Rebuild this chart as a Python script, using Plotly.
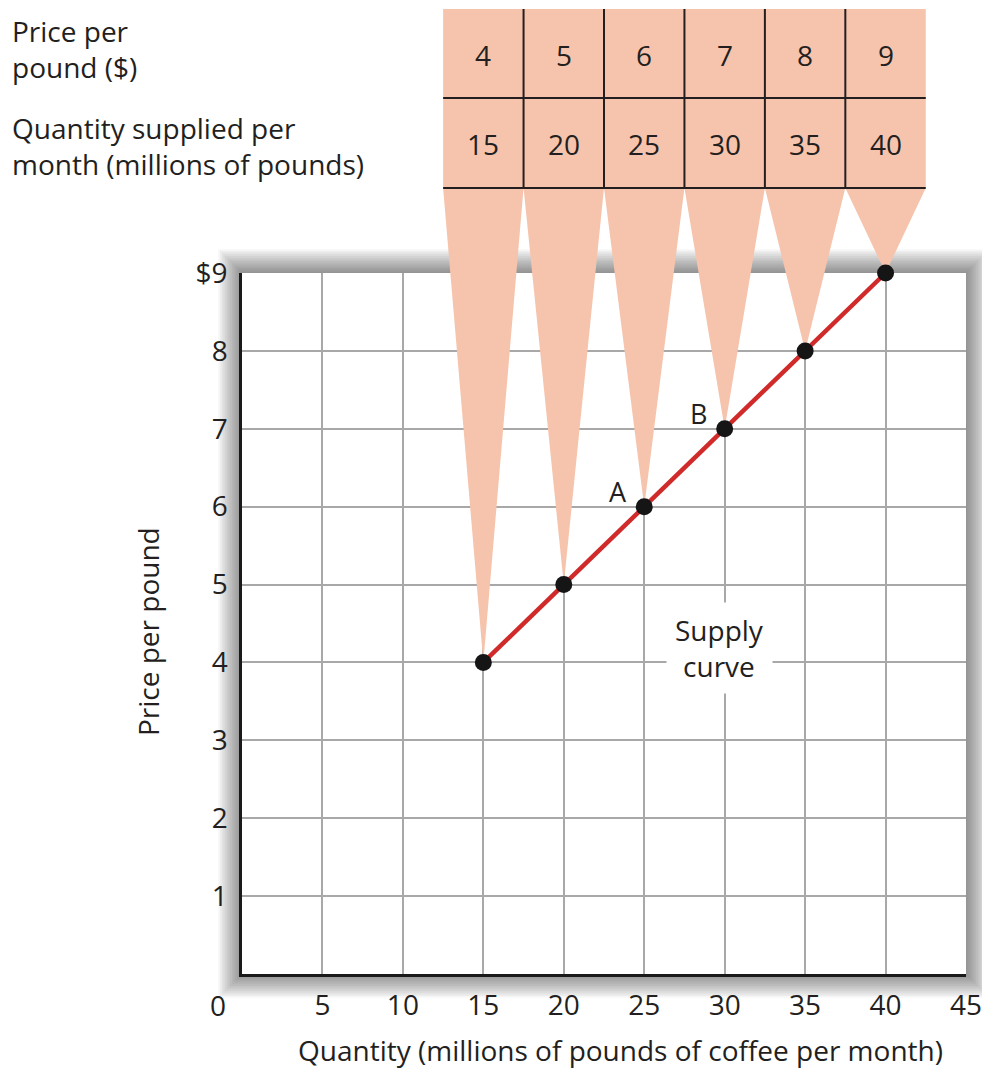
import plotly.graph_objects as go

# ---------------- data ----------------
quantity = [15, 20, 25, 30, 35, 40]          # millions of pounds per month
price = [4, 5, 6, 7, 8, 9]                   # $ per pound
x_tick_vals = [5, 10, 15, 20, 25, 30, 35, 40, 45]
y_tick_vals = [1, 2, 3, 4, 5, 6, 7, 8, 9]
y_tick_text = ["1", "2", "3", "4", "5", "6", "7", "8", "$9"]
point_names = ["A", "B"]
point_q = [25, 30]
point_p = [6, 7]
row_labels = ["Price per<br>pound ($)", "Quantity supplied per<br>month (millions of pounds)"]
x_title = "Quantity (millions of pounds of coffee per month)"
y_title = "Price per pound"
curve_label = "Supply<br>curve"

# ---------------- layout constants ----------------
W, H = 982, 1069
PLOT_BOTTOM_PX = 974                 # page pixel of price 0
ML, MR, MT, MB = 242, 16, 9, H - PLOT_BOTTOM_PX
PLOT_W = W - ML - MR                 # 724
PLOT_H = H - MT - MB                 # 965
GRID_PX = 701                        # pixel height of the price grid
DOM_TOP = GRID_PX / PLOT_H
Y_MAX = 9
X_MAX = 45
Y2_TOP = Y_MAX / DOM_TOP             # overlay axis with identical scale


def y2_of_px(py):
    return (PLOT_BOTTOM_PX - py) / PLOT_H * Y2_TOP


TABLE_TOP = y2_of_px(9)
TABLE_MID = y2_of_px(98)
TABLE_BOT = y2_of_px(188)
HALF = 2.5                           # half column width (quantity units)

FONT = "Open Sans"
FS = 28
TXT = "#231f20"
PEACH = "#f6c4ad"
RED = "#d02a2a"
GRID = "#a8a8a8"

fig = go.Figure()

# dummy trace to create main grid subplot
fig.add_trace(go.Scatter(x=[None], y=[None], xaxis="x", yaxis="y",
                         showlegend=False, hoverinfo="skip"))

# funnels from table down to points
tx, ty = [], []
for q, p in zip(quantity, price):
    tx += [q - HALF, q + HALF, q, q - HALF, None]
    ty += [TABLE_BOT, TABLE_BOT, p, TABLE_BOT, None]
fig.add_trace(go.Scatter(x=tx, y=ty, xaxis="x2", yaxis="y2", mode="lines",
                         fill="toself", fillcolor=PEACH, line=dict(width=0, color=PEACH),
                         showlegend=False, hoverinfo="skip"))

# supply curve
fig.add_trace(go.Scatter(x=quantity, y=price, xaxis="x2", yaxis="y2", mode="lines+markers",
                         line=dict(color=RED, width=4.5),
                         marker=dict(color="#151515", size=17),
                         showlegend=False, cliponaxis=False))

shapes = []
# drop shadow around the grid box
N = 14
for k in range(1, N + 1):
    d = k * 1.7
    shapes.append(dict(type="rect", xref="paper", yref="paper", layer="below",
                       x0=-d / PLOT_W, x1=1 + d / PLOT_W,
                       y0=-d / PLOT_H, y1=DOM_TOP + d / PLOT_H,
                       fillcolor="rgba(0,0,0,0.035)", line=dict(width=0)))
shapes.append(dict(type="rect", xref="paper", yref="paper", layer="below",
                   x0=0, x1=1, y0=0, y1=DOM_TOP, fillcolor="white", line=dict(width=0)))

# table cells
for q in quantity:
    shapes.append(dict(type="rect", xref="x2", yref="y2", layer="above",
                       x0=q - HALF, x1=q + HALF, y0=TABLE_BOT, y1=TABLE_TOP,
                       fillcolor=PEACH, line=dict(width=0)))
for yy in (TABLE_MID, TABLE_BOT):
    shapes.append(dict(type="line", xref="x2", yref="y2", layer="above",
                       x0=quantity[0] - HALF, x1=quantity[-1] + HALF, y0=yy, y1=yy,
                       line=dict(color=TXT, width=2)))
for q in quantity[:-1]:
    shapes.append(dict(type="line", xref="x2", yref="y2", layer="above",
                       x0=q + HALF, x1=q + HALF, y0=TABLE_BOT, y1=TABLE_TOP,
                       line=dict(color=TXT, width=2)))

annotations = []
for q, p in zip(quantity, price):
    annotations.append(dict(x=q, y=(TABLE_TOP + TABLE_MID) / 2, xref="x2", yref="y2",
                            text=str(p), showarrow=False, yshift=-1,
                            xanchor="center", yanchor="middle",
                            font=dict(family=FONT, size=FS, color=TXT)))
    annotations.append(dict(x=q, y=(TABLE_MID + TABLE_BOT) / 2, xref="x2", yref="y2",
                            text=str(q), showarrow=False, yshift=-1,
                            xanchor="center", yanchor="middle",
                            font=dict(family=FONT, size=FS, color=TXT)))
ROW_X = (10 - ML) / PLOT_W
annotations.append(dict(x=ROW_X, y=(TABLE_TOP + TABLE_MID) / 2, xref="paper", yref="y2",
                        text=row_labels[0], showarrow=False, xanchor="left", yanchor="middle",
                        align="left", yshift=5,
                        font=dict(family=FONT, size=FS, color=TXT)))
annotations.append(dict(x=ROW_X, y=(TABLE_MID + TABLE_BOT) / 2, xref="paper", yref="y2",
                        text=row_labels[1], showarrow=False, xanchor="left", yanchor="middle",
                        align="left", yshift=-3,
                        font=dict(family=FONT, size=FS, color=TXT)))

for name, q, p in zip(point_names, point_q, point_p):
    annotations.append(dict(x=q, y=p, xref="x", yref="y", text=name, showarrow=False,
                            xshift=-26, yshift=15, xanchor="center", yanchor="middle",
                            font=dict(family=FONT, size=FS - 1, color=TXT)))

annotations.append(dict(x=29.7, y=4.18, xref="x", yref="y", text=curve_label, showarrow=False,
                        bgcolor="white", borderpad=8, xanchor="center", yanchor="middle",
                        font=dict(family=FONT, size=FS, color=TXT)))

annotations.append(dict(x=0, y=0, xref="x", yref="y", text="0", showarrow=False,
                        xshift=-24, yshift=-31, xanchor="center", yanchor="middle",
                        font=dict(family=FONT, size=FS, color=TXT)))
annotations.append(dict(x=(620 - ML) / PLOT_W, y=(PLOT_BOTTOM_PX - 1050) / PLOT_H,
                        xref="paper", yref="paper", text=x_title, showarrow=False,
                        xanchor="center", yanchor="middle",
                        font=dict(family=FONT, size=FS, color=TXT)))
annotations.append(dict(x=(148 - ML) / PLOT_W, y=4.39, xref="paper", yref="y", text=y_title,
                        showarrow=False, textangle=-90, xanchor="center", yanchor="middle",
                        font=dict(family=FONT, size=FS, color=TXT)))

fig.update_layout(
    width=W, height=H,
    margin=dict(l=ML, r=MR, t=MT, b=MB, pad=0, autoexpand=False),
    paper_bgcolor="white", plot_bgcolor="rgba(0,0,0,0)",
    font=dict(family=FONT, size=FS, color=TXT),
    showlegend=False,
    xaxis=dict(domain=[0, 1], anchor="y", range=[0, X_MAX], tickvals=x_tick_vals,
               showgrid=True, gridcolor=GRID, gridwidth=2, zeroline=False, automargin=False,
               showline=True, linecolor="#1a1a1a", linewidth=2.5, ticks="",
               ticklabeloverflow="allow",
               ticklabelstandoff=5, tickfont=dict(family=FONT, size=FS, color=TXT)),
    yaxis=dict(domain=[0, DOM_TOP], anchor="x", range=[0, Y_MAX], tickvals=y_tick_vals,
               ticktext=y_tick_text, automargin=False,
               showgrid=True, gridcolor=GRID, gridwidth=2, zeroline=False,
               showline=True, linecolor="#1a1a1a", linewidth=2.5, ticks="",
               ticklabelstandoff=6, tickfont=dict(family=FONT, size=FS, color=TXT)),
    xaxis2=dict(domain=[0, 1], anchor="y2", range=[0, X_MAX], visible=False, automargin=False),
    yaxis2=dict(domain=[0, 1], anchor="x2", range=[0, Y2_TOP], visible=False, automargin=False),
    shapes=shapes,
    annotations=annotations,
)

# remove the default page margin so the figure sits at the window's top-left corner
fig.write_html("out.html", config={"displayModeBar": False},
               post_script="document.body.style.margin='0';")
